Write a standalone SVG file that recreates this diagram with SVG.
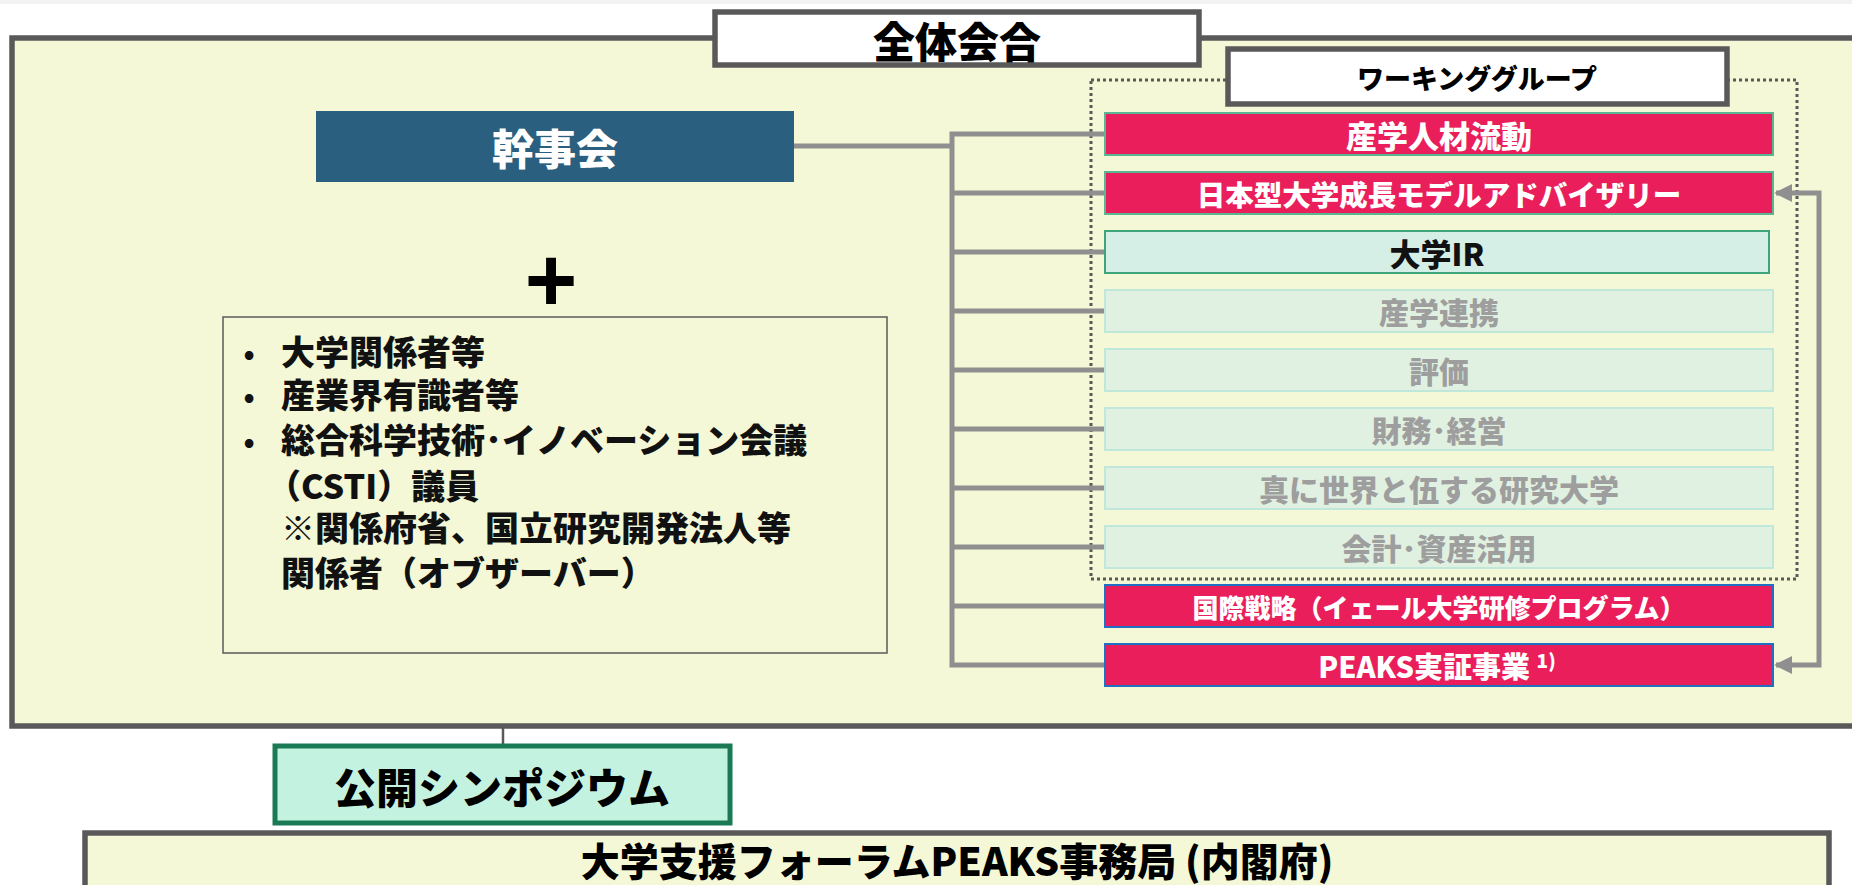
<svg xmlns="http://www.w3.org/2000/svg" width="1852" height="885" viewBox="0 0 1852 885">
<style>
text { font-family: 'Noto Sans CJK JP', 'Noto Sans CJK SC', sans-serif; font-weight: 900; }
.c { text-anchor: middle; dominant-baseline: central; }
.frame { fill: #f4f8d6; stroke: #595959; stroke-width: 5.5; }
.label { fill: #ffffff; stroke: #595959; stroke-width: 5.5; }
.red { fill: #e91e5a; stroke: #5ab592; stroke-width: 2; }
.redb { fill: #e91e5a; stroke: #1f6fc2; stroke-width: 2; }
.redt { fill: #ffffff; font-size: 30px; }
.ir { fill: #d6efe6; stroke: #3ea47c; stroke-width: 2; }
.fade { fill: #e1f1e1; stroke: #bfe7da; stroke-width: 2; }
.fadet { fill: #9e9e9e; font-size: 30px; }
.conn { fill: none; stroke: #8f8f8f; stroke-width: 5; }
.mem { font-size: 34px; fill: #111; }
.bul { font-size: 28px; fill: #111; text-anchor: middle; }
</style>
<defs>
<marker id="arr" viewBox="0 0 10 10" refX="9" refY="5" markerWidth="3.6" markerHeight="3.6" orient="auto-start-reverse" markerUnits="strokeWidth">
<path d="M0,0 L10,5 L0,10 z" fill="#8f8f8f"/>
</marker>
</defs>
<rect x="0" y="0" width="1852" height="4" fill="#f2f2f2"/>

<g id="zentai">
<rect class="frame" x="12" y="38" width="1860" height="688"/>
<rect class="label" x="715" y="12" width="484" height="53"/>
<text class="c" x="957" y="39" style="font-size:42px" fill="#000">全体会合</text>
</g>

<g id="wg-frame">
<rect x="1091" y="80" width="706" height="499" fill="none" stroke="#595959" stroke-width="3" stroke-dasharray="3,3"/>
<rect class="label" x="1228" y="49" width="499" height="55"/>
<text class="c" x="1477" y="77" style="font-size:27px" fill="#000">ワーキンググループ</text>
</g>

<g id="connectors">
<polyline class="conn" points="794,146 952,146"/>
<polyline class="conn" points="1105,134 952,134 952,665 1105,665"/>
<line class="conn" x1="952" y1="193" x2="1105" y2="193"/>
<line class="conn" x1="952" y1="252" x2="1105" y2="252"/>
<line class="conn" x1="952" y1="311" x2="1105" y2="311"/>
<line class="conn" x1="952" y1="370" x2="1105" y2="370"/>
<line class="conn" x1="952" y1="429" x2="1105" y2="429"/>
<line class="conn" x1="952" y1="488" x2="1105" y2="488"/>
<line class="conn" x1="952" y1="547" x2="1105" y2="547"/>
<line class="conn" x1="952" y1="606" x2="1105" y2="606"/>
<polyline class="conn" points="1776,193 1819,193 1819,665 1776,665" marker-start="url(#arr)" marker-end="url(#arr)"/>
<line x1="503" y1="728" x2="503" y2="746" stroke="#595959" stroke-width="2.5"/>
</g>

<g id="kanjikai">
<rect x="316" y="111" width="478" height="71" fill="#2b5f7f"/>
<text class="c" x="555" y="146" style="font-size:42px" fill="#fff">幹事会</text>
</g>

<g id="plus">
<text class="c" x="551" y="280" style="font-size:90px; font-family:'Liberation Sans', sans-serif; font-weight:bold" fill="#000">+</text>
</g>

<g id="members">
<rect x="223" y="317" width="664" height="336" fill="#f4f8d6" stroke="#595959" stroke-width="1.5"/>
<text class="bul"><tspan x="249" y="364">•</tspan><tspan x="249" y="407">•</tspan><tspan x="249" y="452">•</tspan></text>
<text class="mem"><tspan x="281" y="365">大学関係者等</tspan><tspan x="281" y="408">産業界有識者等</tspan><tspan x="281" y="453">総合科学技術･イノベーション会議</tspan><tspan x="267" y="499">（CSTI）議員</tspan><tspan x="281" y="541">※関係府省、国立研究開発法人等</tspan><tspan x="281" y="586">関係者（オブザーバー）</tspan></text>
</g>

<g id="wg1">
<rect class="red" x="1105" y="113" width="668" height="42"/>
<text class="c redt" x="1439" y="134" style="font-size:31px">産学人材流動</text>
</g>
<g id="wg2">
<rect class="red" x="1105" y="172" width="668" height="42"/>
<text class="c redt" x="1439" y="193" style="font-size:28.5px">日本型大学成長モデルアドバイザリー</text>
</g>
<g id="wg3">
<rect class="ir" x="1105" y="231" width="664" height="42"/>
<text class="c" x="1437" y="252" style="font-size:31px" fill="#111">大学IR</text>
</g>
<g id="wg4">
<rect class="fade" x="1105" y="290" width="668" height="42"/>
<text class="c fadet" x="1439" y="311">産学連携</text>
</g>
<g id="wg5">
<rect class="fade" x="1105" y="349" width="668" height="42"/>
<text class="c fadet" x="1439" y="370">評価</text>
</g>
<g id="wg6">
<rect class="fade" x="1105" y="408" width="668" height="42"/>
<text class="c fadet" x="1439" y="429">財務･経営</text>
</g>
<g id="wg7">
<rect class="fade" x="1105" y="467" width="668" height="42"/>
<text class="c fadet" x="1439" y="488">真に世界と伍する研究大学</text>
</g>
<g id="wg8">
<rect class="fade" x="1105" y="526" width="668" height="42"/>
<text class="c fadet" x="1439" y="547">会計･資産活用</text>
</g>
<g id="wg9">
<rect class="redb" x="1105" y="585" width="668" height="42"/>
<text class="c redt" x="1439" y="606" style="font-size:26px">国際戦略（イェール大学研修プログラム）</text>
</g>
<g id="wg10">
<rect class="redb" x="1105" y="644" width="668" height="42"/>
<text class="c redt" x="1437" y="665" style="font-size:29px">PEAKS実証事業 <tspan style="font-size:19px" dy="-6">1)</tspan></text>
</g>

<g id="symposium">
<rect x="275" y="746" width="455" height="77" fill="#c4f2e0" stroke="#1b7a56" stroke-width="5"/>
<text class="c" x="502" y="785" style="font-size:42px" fill="#000">公開シンポジウム</text>
</g>

<g id="jimukyoku">
<rect x="85" y="833" width="1744" height="80" fill="#f4f8d6" stroke="#595959" stroke-width="5.5"/>
<text class="c" x="957" y="859" style="font-size:39px" fill="#000">大学支援フォーラムPEAKS事務局 (内閣府)</text>
</g>
</svg>
